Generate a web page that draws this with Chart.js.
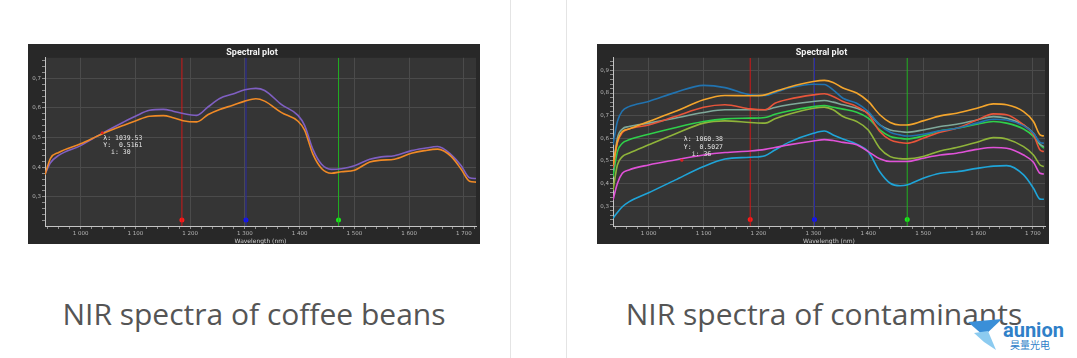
<!DOCTYPE html>
<html lang="en">
<head>
<meta charset="UTF-8">
<meta name="viewport" content="width=device-width, initial-scale=1.0">
<title>NIR spectra</title>
<script src="https://cdn.jsdelivr.net/npm/chart.js@4.4.0/dist/chart.umd.min.js"></script>
<style>
    body { margin:0; background:#fff; width:1077px; height:358px; position:relative; overflow:hidden; font-family:"Open Sans", sans-serif; }
    .panel { position:absolute; top:44px; width:452px; height:200px; background:#282828; }
    .sep { position:absolute; top:0; width:1px; height:358px; background:#e4e4e4; }
    .cap { position:absolute; top:300px; font-size:30px; line-height:28px; color:#555; white-space:nowrap; transform:translateX(-50%); }
    .logo { position:absolute; left:962px; top:312px; }
</style>
</head>
<body>
<div class="sep" style="left:510px"></div>
<div class="sep" style="left:566px"></div>
<div class="panel" style="left:28px"><canvas id="coffeeChart"></canvas></div>
<div class="panel" style="left:597px"><canvas id="contamChart"></canvas></div>
<div class="cap" style="left:254px">NIR spectra of coffee beans</div>
<div class="cap" style="left:824px">NIR spectra of contaminants</div>
<svg class="logo" width="112" height="44" viewBox="0 0 112 44">
    <polygon points="6,10 40,7 22,24" fill="#3a8fd8"/>
    <polygon points="12,21 26,19 34,38 22,30" fill="#8ccbf0"/>
    <text x="41" y="25" font-family="Roboto, sans-serif" font-weight="bold" font-size="20" fill="#2f80c8">aunion</text>
    <text x="48" y="37" font-family="Noto Sans CJK SC" font-size="10" fill="#2f80c8">昊量光电</text>
</svg>
<script>
    // ---- coffee beans (left) ----
    var coffeeWl = [935, 945, 960, 1000, 1040, 1078, 1100, 1126, 1151, 1169, 1187, 1212, 1233, 1254, 1278, 1300, 1320, 1336, 1367, 1397, 1409, 1424, 1440, 1458, 1476, 1500, 1528, 1549, 1573, 1604, 1628, 1652, 1677, 1695, 1710, 1722];
    var coffeeOrange = [0.375, 0.43, 0.45, 0.479, 0.513, 0.541, 0.556, 0.572, 0.574, 0.567, 0.557, 0.553, 0.578, 0.595, 0.609, 0.623, 0.631, 0.623, 0.584, 0.555, 0.525, 0.445, 0.396, 0.38, 0.385, 0.39, 0.418, 0.424, 0.427, 0.447, 0.456, 0.461, 0.436, 0.393, 0.353, 0.35];
    var coffeePurple = [0.377, 0.415, 0.44, 0.473, 0.515, 0.552, 0.572, 0.592, 0.595, 0.589, 0.581, 0.575, 0.604, 0.632, 0.647, 0.661, 0.666, 0.659, 0.611, 0.575, 0.541, 0.461, 0.41, 0.393, 0.395, 0.405, 0.427, 0.435, 0.439, 0.456, 0.464, 0.47, 0.442, 0.405, 0.365, 0.362];
    var coffeeCursor = [1039.53, 0.5161, 30];

    // ---- contaminants (right) ----
    var contamWl = [935, 943, 952, 964, 1000, 1048, 1100, 1139, 1185, 1212, 1230, 1255, 1300, 1320, 1336, 1354, 1379, 1400, 1421, 1440, 1458, 1470, 1500, 1531, 1561, 1598, 1628, 1652, 1683, 1701, 1713, 1720];
    var contamOrange = [0.482, 0.585, 0.63, 0.641, 0.674, 0.718, 0.77, 0.789, 0.788, 0.792, 0.807, 0.826, 0.851, 0.856, 0.847, 0.822, 0.8, 0.763, 0.704, 0.67, 0.659, 0.659, 0.677, 0.699, 0.711, 0.733, 0.752, 0.748, 0.718, 0.674, 0.615, 0.61];
    var contamBlue = [0.571, 0.674, 0.721, 0.74, 0.763, 0.802, 0.834, 0.824, 0.792, 0.789, 0.802, 0.822, 0.839, 0.838, 0.814, 0.777, 0.755, 0.718, 0.659, 0.627, 0.615, 0.61, 0.618, 0.633, 0.644, 0.667, 0.684, 0.681, 0.655, 0.622, 0.582, 0.578];
    var contamRed = [0.47, 0.58, 0.625, 0.641, 0.659, 0.696, 0.737, 0.748, 0.73, 0.726, 0.755, 0.773, 0.792, 0.797, 0.785, 0.763, 0.74, 0.706, 0.63, 0.593, 0.581, 0.578, 0.6, 0.627, 0.644, 0.681, 0.708, 0.704, 0.659, 0.615, 0.548, 0.541];
    var contamTeal = [0.46, 0.6, 0.641, 0.652, 0.667, 0.689, 0.714, 0.726, 0.726, 0.726, 0.736, 0.748, 0.763, 0.767, 0.76, 0.748, 0.733, 0.711, 0.659, 0.637, 0.63, 0.627, 0.637, 0.652, 0.662, 0.681, 0.696, 0.689, 0.659, 0.622, 0.574, 0.563];
    var contamGreen = [0.43, 0.541, 0.578, 0.593, 0.618, 0.647, 0.674, 0.686, 0.689, 0.692, 0.706, 0.721, 0.74, 0.745, 0.737, 0.729, 0.715, 0.689, 0.637, 0.608, 0.6, 0.597, 0.61, 0.633, 0.644, 0.662, 0.674, 0.667, 0.641, 0.608, 0.571, 0.556];
    var contamOlive = [0.37, 0.482, 0.519, 0.534, 0.571, 0.619, 0.667, 0.677, 0.67, 0.667, 0.686, 0.706, 0.733, 0.738, 0.726, 0.696, 0.674, 0.637, 0.556, 0.519, 0.51, 0.509, 0.519, 0.544, 0.559, 0.582, 0.603, 0.597, 0.563, 0.526, 0.482, 0.475];
    var contamMagenta = [0.327, 0.40, 0.445, 0.46, 0.482, 0.504, 0.526, 0.537, 0.544, 0.551, 0.559, 0.571, 0.588, 0.594, 0.59, 0.582, 0.571, 0.541, 0.509, 0.497, 0.497, 0.497, 0.512, 0.526, 0.534, 0.551, 0.559, 0.556, 0.526, 0.494, 0.445, 0.442];
    var contamCyan = [0.246, 0.272, 0.297, 0.319, 0.359, 0.415, 0.475, 0.508, 0.516, 0.523, 0.548, 0.582, 0.622, 0.632, 0.615, 0.597, 0.574, 0.541, 0.452, 0.401, 0.39, 0.393, 0.423, 0.445, 0.452, 0.467, 0.477, 0.479, 0.438, 0.379, 0.331, 0.33];
    var contamCursor = [1060.38, 0.5027, 36];

    // band markers (nm) shared by both plots
    var markerWl = [1185, 1302, 1471];
    var markerLineColors = ['#d01818', '#2a2aa8', '#22b022'];
    var markerDotColors = ['#ff1a1a', '#1010ff', '#18ee18'];

    function isMajor(v, step) {
        var r = v / step;
        return Math.abs(r - Math.round(r)) < 1e-6;
    }

    function toPoints(xs, ys) {
        var out = [];
        for (var i = 0; i < xs.length; i++) out.push({x: xs[i], y: ys[i]});
        return out;
    }

    var plotBg = {
        id: 'plotBg',
        beforeDraw: function (chart) {
            var a = chart.chartArea, c = chart.ctx;
            c.save();
            c.fillStyle = '#353535';
            c.fillRect(a.left, a.top, a.right - a.left, a.bottom - a.top);
            c.restore();
        }
    };

    var cursorInfo = {
        id: 'cursorInfo',
        afterDatasetsDraw: function (chart, args, opts) {
            if (!opts.point) return;
            var c = chart.ctx;
            var px = chart.scales.x.getPixelForValue(opts.point[0]);
            var py = chart.scales.y.getPixelForValue(opts.point[1]);
            c.save();
            c.fillStyle = '#e02020';
            c.beginPath();
            c.arc(px, py, 1.5, 0, Math.PI * 2);
            c.fill();
            c.fillStyle = '#e6e6e6';
            c.font = '6.5px "DejaVu Sans Mono"';
            c.textBaseline = 'middle';
            var lines = ['λ: ' + opts.point[0].toFixed(2), 'Y:  ' + opts.point[1].toFixed(4), '  i: ' + opts.point[2]];
            for (var i = 0; i < lines.length; i++) {
                c.fillText(lines[i], px + opts.dx, py + opts.dy + i * 7.3);
            }
            c.restore();
        }
    };

    function buildChart(id, wl, series, yMin, yMax, xMin, xMax, dotY, cursor, yWidth, padRight) {
        var datasets = [];
        series.forEach(function (s) {
            datasets.push({
                data: toPoints(wl, s.values),
                borderColor: s.color,
                borderWidth: 1.6,
                pointRadius: 0,
                cubicInterpolationMode: 'monotone',
                fill: false
            });
        });
        markerWl.forEach(function (m, i) {
            datasets.push({
                data: [{x: m, y: yMin}, {x: m, y: yMax}],
                borderColor: markerLineColors[i],
                borderWidth: 1,
                pointRadius: 0
            });
            datasets.push({
                data: [{x: m, y: dotY}],
                showLine: false,
                pointRadius: 2.5,
                pointBorderWidth: 0,
                pointBackgroundColor: markerDotColors[i]
            });
        });

        return new Chart(document.getElementById(id).getContext('2d'), {
            type: 'line',
            data: {datasets: datasets},
            options: {
                responsive: true,
                maintainAspectRatio: false,
                animation: false,
                layout: {padding: {right: padRight}},
                plugins: {
                    legend: {display: false},
                    tooltip: {enabled: false},
                    title: {
                        display: true,
                        text: 'Spectral plot',
                        color: '#f2f2f2',
                        font: {family: 'Roboto', weight: 'bold', size: 9},
                        padding: {top: 3, bottom: 0}
                    },
                    cursorInfo: cursor
                },
                scales: {
                    x: {
                        type: 'linear',
                        min: xMin,
                        max: xMax,
                        afterBuildTicks: function (axis) {
                            var t = [];
                            for (var v = Math.ceil(axis.min / 20) * 20; v <= axis.max; v += 20) t.push({value: v});
                            axis.ticks = t;
                        },
                        afterFit: function (axis) { axis.height = 18; },
                        ticks: {
                            autoSkip: false,
                            maxRotation: 0,
                            padding: 1,
                            color: '#b4b4b4',
                            font: {family: 'DejaVu Sans', size: 5.5},
                            callback: function (v) {
                                return isMajor(v, 100) ? String(v).replace(/\B(?=(\d{3})+(?!\d))/g, ' ') : '';
                            }
                        },
                        grid: {
                            color: function (ctx) { return ctx.tick && isMajor(ctx.tick.value, 100) ? '#4b4b4b' : 'rgba(0,0,0,0)'; },
                            tickColor: '#8c8c8c',
                            tickLength: 3
                        },
                        border: {display: true, color: '#c4c4c4', width: 1},
                        title: {
                            display: true,
                            text: 'Wavelength (nm)',
                            color: '#cfcfcf',
                            font: {family: 'DejaVu Sans', size: 6, lineHeight: 1},
                            padding: 0
                        }
                    },
                    y: {
                        min: yMin,
                        max: yMax,
                        afterBuildTicks: function (axis) {
                            var t = [];
                            for (var k = Math.ceil(axis.min / 0.02 - 1e-9); k * 0.02 <= axis.max + 1e-9; k++) t.push({value: +(k * 0.02).toFixed(2)});
                            axis.ticks = t;
                        },
                        afterFit: function (axis) { axis.width = yWidth; },
                        ticks: {
                            autoSkip: false,
                            padding: 1,
                            color: '#b4b4b4',
                            font: {family: 'DejaVu Sans', size: 5.5},
                            callback: function (v) {
                                return isMajor(v, 0.1) ? v.toFixed(1).replace('.', ',') : '';
                            }
                        },
                        grid: {
                            color: function (ctx) { return ctx.tick && isMajor(ctx.tick.value, 0.1) ? '#4b4b4b' : 'rgba(0,0,0,0)'; },
                            tickColor: '#8c8c8c',
                            tickLength: 3
                        },
                        border: {display: true, color: '#c4c4c4', width: 1}
                    }
                }
            },
            plugins: [plotBg, cursorInfo]
        });
    }

    buildChart('coffeeChart', coffeeWl, [
        {values: coffeeOrange, color: '#f08a26'},
        {values: coffeePurple, color: '#7f5fc2'}
    ], 0.202, 0.769, 935, 1722, 0.222,
        {point: coffeeCursor, dx: 1, dy: 5}, 17, 4);

    buildChart('contamChart', contamWl, [
        {values: contamOrange, color: '#f4a52c'},
        {values: contamBlue, color: '#2173b0'},
        {values: contamRed, color: '#e9553a'},
        {values: contamTeal, color: '#7fa99a'},
        {values: contamGreen, color: '#2fd04a'},
        {values: contamOlive, color: '#8fb43a'},
        {values: contamMagenta, color: '#e052d8'},
        {values: contamCyan, color: '#1fa4d8'}
    ], 0.212, 0.956, 935, 1722, 0.241,
        {point: contamCursor, dx: 2, dy: -20.5}, 16, 3);
</script>
</body>
</html>
